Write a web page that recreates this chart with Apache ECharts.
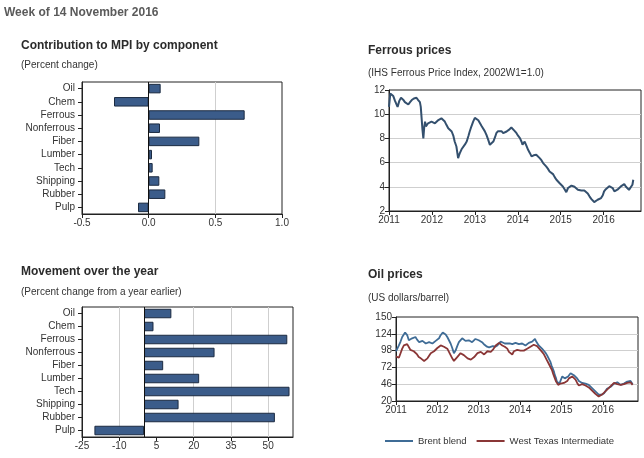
<!DOCTYPE html>
<html>
<head>
<meta charset="utf-8">
<script src="https://cdn.jsdelivr.net/npm/echarts@6/dist/echarts.min.js"></script>
<style>
html,body{margin:0;padding:0;background:#fff;}
#chart{width:644px;height:458px;}
</style>
</head>
<body>
<div id="chart"></div>
<script>
// ---- Data ----
const components = ['Oil','Chem','Ferrous','Nonferrous','Fiber','Lumber','Tech','Shipping','Rubber','Pulp'];
const contribution = [0.09,-0.26,0.72,0.085,0.38,0.025,0.03,0.08,0.125,-0.08];
const yearChange = [11.0,3.8,57.7,28.4,7.7,22.2,58.6,13.9,52.7,-20.0];

const contribTicks = [-0.5, 0.0, 0.5, 1.0];
const yearTicks = [-25, -10, 5, 20, 35, 50];
const ferrousTicks = [2, 4, 6, 8, 10, 12];
const oilTicks = [20, 46, 72, 98, 124, 150];
const yearLabels = [2011, 2012, 2013, 2014, 2015, 2016];

// Ferrous price index: [decimal year, index]
const ferrous = [
[2011.00,10.6],[2011.03,11.7],[2011.06,11.8],[2011.10,11.5],[2011.14,11.1],[2011.20,10.6],[2011.24,11.1],
[2011.28,11.36],[2011.33,11.2],[2011.37,11.0],[2011.41,11.1],[2011.45,10.8],[2011.49,11.0],[2011.53,11.17],
[2011.58,11.3],[2011.64,11.36],[2011.68,11.17],[2011.72,11.0],[2011.74,10.6],[2011.76,9.66],[2011.78,8.7],
[2011.80,8.0],[2011.82,8.9],[2011.84,9.39],[2011.86,9.0],[2011.88,8.84],[2011.91,9.25],[2011.95,9.1],
[2011.99,9.39],[2012.03,9.4],[2012.07,9.25],[2012.11,9.3],[2012.15,9.52],[2012.19,9.6],[2012.22,9.66],
[2012.26,9.5],[2012.30,9.39],[2012.34,9.1],[2012.38,8.84],[2012.42,8.7],[2012.46,8.57],[2012.50,8.2],
[2012.53,7.74],[2012.57,7.33],[2012.61,6.37],[2012.63,6.6],[2012.65,6.78],[2012.69,7.1],[2012.73,7.2],
[2012.77,7.5],[2012.81,7.74],[2012.85,8.2],[2012.88,8.57],[2012.92,9.0],[2012.96,9.39],[2013.00,9.7],
[2013.04,9.8],[2013.08,9.5],[2013.12,9.25],[2013.16,9.0],[2013.19,8.84],[2013.23,8.6],[2013.27,8.29],
[2013.31,7.9],[2013.35,7.47],[2013.39,7.5],[2013.43,7.74],[2013.47,8.1],[2013.50,8.43],[2013.54,8.6],
[2013.58,8.7],[2013.62,8.6],[2013.66,8.43],[2013.70,8.5],[2013.74,8.57],[2013.79,8.7],[2013.85,8.9],
[2013.89,8.84],[2013.93,8.6],[2013.97,8.43],[2014.01,8.2],[2014.05,8.02],[2014.09,7.7],[2014.11,7.47],
[2014.14,7.6],[2014.16,7.74],[2014.20,7.4],[2014.24,7.06],[2014.28,6.8],[2014.32,6.51],[2014.37,6.6],
[2014.43,6.65],[2014.47,6.5],[2014.51,6.37],[2014.55,6.2],[2014.59,5.96],[2014.62,5.8],[2014.66,5.69],
[2014.70,5.5],[2014.74,5.27],[2014.78,5.2],[2014.82,5.05],[2014.86,4.8],[2014.90,4.58],[2014.94,4.45],
[2014.97,4.31],[2015.01,4.2],[2015.05,4.03],[2015.09,3.8],[2015.13,3.56],[2015.17,3.9],[2015.21,4.03],
[2015.25,4.1],[2015.28,4.17],[2015.32,4.0],[2015.36,3.9],[2015.40,3.75],[2015.44,3.62],[2015.48,3.7],
[2015.51,3.76],[2015.55,3.7],[2015.59,3.62],[2015.63,3.45],[2015.67,3.21],[2015.71,3.0],[2015.74,2.85],
[2015.78,2.74],[2015.82,2.85],[2015.86,2.93],[2015.90,3.0],[2015.94,3.07],[2015.98,3.3],[2016.01,3.62],
[2016.05,3.8],[2016.09,3.9],[2016.13,4.05],[2016.17,4.17],[2016.21,3.9],[2016.25,3.62],[2016.28,3.7],
[2016.32,3.76],[2016.36,3.9],[2016.40,4.03],[2016.44,4.1],[2016.48,4.22],[2016.52,4.0],[2016.55,3.84],
[2016.59,3.75],[2016.63,3.68],[2016.67,4.17],[2016.69,4.58]
];

// Brent blend, US$/barrel: [decimal year, price]
const brent = [
[2011.00,97],[2011.04,100],[2011.07,106],[2011.11,112],[2011.15,119],[2011.19,122],[2011.22,126],[2011.27,122],
[2011.31,114],[2011.35,116],[2011.39,117],[2011.43,118],[2011.47,119],[2011.51,115],[2011.56,111],[2011.60,113],
[2011.64,113],[2011.68,111],[2011.72,109],[2011.76,110],[2011.80,111],[2011.84,110],[2011.88,109],[2011.92,111],
[2011.96,113],[2012.00,114],[2012.04,117],[2012.07,121],[2012.10,124],[2012.13,126],[2012.16,126],[2012.20,123],
[2012.24,119],[2012.28,114],[2012.32,109],[2012.36,102],[2012.40,94],[2012.44,98],[2012.48,105],[2012.52,111],
[2012.56,114],[2012.60,117],[2012.64,114],[2012.68,113],[2012.72,111],[2012.76,114],[2012.80,112],[2012.84,111],
[2012.88,113],[2012.92,116],[2012.96,114],[2013.00,114],[2013.04,113],[2013.08,111],[2013.14,107],[2013.20,104],
[2013.25,103],[2013.29,106],[2013.34,105],[2013.40,104],[2013.45,106],[2013.49,109],[2013.53,112],[2013.57,110],
[2013.63,109],[2013.69,109],[2013.75,109],[2013.81,108],[2013.85,110],[2013.89,110],[2013.93,109],[2013.97,108],
[2014.01,108],[2014.05,109],[2014.09,107],[2014.13,106],[2014.17,108],[2014.21,110],[2014.25,110],[2014.29,112],
[2014.33,115],[2014.36,116],[2014.39,112],[2014.41,109],[2014.45,106],[2014.49,104],[2014.53,101],[2014.57,99],
[2014.61,95],[2014.65,91],[2014.69,86],[2014.73,81],[2014.76,75],[2014.79,70],[2014.82,65],[2014.84,60],
[2014.87,55],[2014.89,50],[2014.92,48],[2014.95,47],[2014.98,52],[2015.02,58],[2015.05,56],[2015.08,55],
[2015.12,56],[2015.16,58],[2015.19,61],[2015.22,63],[2015.26,62],[2015.30,60],[2015.34,58],[2015.38,55],
[2015.42,51],[2015.46,48],[2015.50,48],[2015.54,49],[2015.58,47],[2015.62,46],[2015.66,45],[2015.70,42],
[2015.74,40],[2015.78,37],[2015.82,35],[2015.86,32],[2015.90,30],[2015.94,29],[2015.98,30],[2016.03,32],
[2016.06,35],[2016.10,39],[2016.14,40],[2016.19,42],[2016.23,45],[2016.27,47],[2016.31,48],[2016.35,49],
[2016.39,46],[2016.43,45],[2016.47,46],[2016.51,47],[2016.55,49],[2016.59,50],[2016.63,48],[2016.67,51],
[2016.70,49],[2016.72,46]
];

// West Texas Intermediate, US$/barrel: [decimal year, price]
const wti = [
[2011.00,89],[2011.04,88],[2011.07,87],[2011.11,94],[2011.15,101],[2011.19,106],[2011.23,109],[2011.27,108],
[2011.30,106],[2011.35,99],[2011.39,97],[2011.43,97],[2011.47,95],[2011.51,92],[2011.55,88],[2011.60,86],
[2011.64,84],[2011.68,82],[2011.72,84],[2011.76,86],[2011.80,90],[2011.84,94],[2011.88,96],[2011.92,97],
[2011.96,99],[2012.00,102],[2012.04,104],[2012.08,106],[2012.12,105],[2012.16,104],[2012.20,102],[2012.24,101],
[2012.28,96],[2012.32,91],[2012.36,86],[2012.40,82],[2012.44,85],[2012.48,88],[2012.52,91],[2012.56,94],
[2012.60,92],[2012.64,91],[2012.68,88],[2012.73,86],[2012.77,85],[2012.81,84],[2012.85,86],[2012.89,88],
[2012.93,91],[2012.97,94],[2013.01,96],[2013.05,96],[2013.09,94],[2013.13,92],[2013.17,95],[2013.21,97],
[2013.25,96],[2013.29,96],[2013.35,100],[2013.41,106],[2013.45,108],[2013.49,110],[2013.53,108],[2013.57,106],
[2013.63,104],[2013.69,101],[2013.73,96],[2013.77,94],[2013.81,92],[2013.85,97],[2013.89,97],[2013.93,99],
[2013.97,100],[2014.01,98],[2014.05,96],[2014.09,98],[2014.13,100],[2014.17,101],[2014.21,102],[2014.25,104],
[2014.29,106],[2014.33,107],[2014.37,109],[2014.41,105],[2014.45,102],[2014.49,99],[2014.53,97],[2014.57,93],
[2014.61,88],[2014.65,83],[2014.69,78],[2014.73,73],[2014.77,68],[2014.80,62],[2014.84,55],[2014.87,50],
[2014.89,47],[2014.92,45],[2014.95,44],[2014.98,47],[2015.02,49],[2015.06,48],[2015.10,46],[2015.14,51],
[2015.18,55],[2015.22,57],[2015.26,58],[2015.30,55],[2015.34,53],[2015.38,48],[2015.42,44],[2015.46,45],
[2015.50,46],[2015.54,45],[2015.58,44],[2015.62,42],[2015.66,41],[2015.70,38],[2015.74,36],[2015.78,33],
[2015.82,31],[2015.86,29],[2015.90,27],[2015.94,28],[2015.98,30],[2016.03,33],[2016.07,36],[2016.11,38],
[2016.15,41],[2016.19,43],[2016.23,46],[2016.27,48],[2016.31,49],[2016.35,46],[2016.39,44],[2016.43,45],
[2016.47,47],[2016.51,46],[2016.55,46],[2016.59,48],[2016.63,50],[2016.67,49],[2016.70,47],[2016.72,45]
];

// ---- Styling ----
const FONT = 'Liberation Sans, Arial, sans-serif';
const TXT = '#333';
const AXIS = '#222';
const GRIDC = '#cfcfcf';
const BAR = '#3b5c8a';
const BAR_EDGE = '#1b2a40';

const labelStyle = {color: TXT, fontSize: 10, fontFamily: FONT};
const axisLineStyle = {show: true, onZero: false, lineStyle: {color: AXIS, width: 1}};
const tickStyle = {show: true, inside: false, length: 4, lineStyle: {color: AXIS}};

function barCategoryAxis(gridIndex) {
  return {
    type: 'category', gridIndex, data: components, inverse: true,
    axisLine: axisLineStyle,
    axisTick: {show: true, length: 4, alignWithLabel: true, interval: 0, lineStyle: {color: AXIS}},
    axisLabel: Object.assign({margin: 7, interval: 0}, labelStyle),
    splitLine: {show: false}
  };
}

function titleText(text, left, top, bold) {
  return {
    text, left, top, padding: 0,
    textStyle: bold
      ? {fontSize: 12, fontWeight: 'bold', color: '#2b2b2b', fontFamily: FONT}
      : {fontSize: 10, fontWeight: 'normal', color: TXT, fontFamily: FONT}
  };
}

const chart = echarts.init(document.getElementById('chart'), null, {renderer: 'canvas'});

const option = {
  backgroundColor: '#fff',
  animation: false,
  textStyle: {fontFamily: FONT},
  title: [
    {text: 'Week of 14 November 2016', left: 4, top: 7, padding: 0, textStyle: {fontSize: 12, fontWeight: 'bold', color: '#5a5a5a', fontFamily: FONT}},
    titleText('Contribution to MPI by component', 21, 40, true),
    titleText('(Percent change)', 21, 60, false),
    titleText('Ferrous prices', 368, 45, true),
    titleText('(IHS Ferrous Price Index, 2002W1=1.0)', 368, 68, false),
    titleText('Movement over the year', 21, 266, true),
    titleText('(Percent change from a year earlier)', 21, 287, false),
    titleText('Oil prices', 368, 269, true),
    titleText('(US dollars/barrel)', 368, 293, false)
  ],
  legend: {
    data: ['Brent blend', 'West Texas Intermediate'],
    left: 385, top: 436, padding: 0,
    icon: 'rect', itemWidth: 28, itemHeight: 2, itemGap: 10,
    textStyle: {color: TXT, fontSize: 9.5, fontFamily: FONT}
  },
  grid: [
    {left: 82, top: 82, width: 200, height: 132, show: true, borderColor: AXIS, borderWidth: 1},
    {left: 389, top: 90, width: 252, height: 121, show: true, borderColor: AXIS, borderWidth: 1},
    {left: 82, top: 307, width: 211, height: 130, show: true, borderColor: AXIS, borderWidth: 1},
    {left: 396, top: 317, width: 242, height: 84, show: true, borderColor: AXIS, borderWidth: 1}
  ],
  xAxis: [
    {
      type: 'value', gridIndex: 0,
      min: contribTicks[0], max: contribTicks[contribTicks.length - 1], interval: 0.5,
      axisLine: axisLineStyle, axisTick: tickStyle,
      axisLabel: Object.assign({margin: 4, formatter: v => v.toFixed(1)}, labelStyle),
      splitLine: {show: true, showMinLine: false, showMaxLine: false, lineStyle: {color: ['transparent', GRIDC], width: 1}}
    },
    {
      type: 'value', gridIndex: 1,
      min: yearLabels[0], max: 2016.87, interval: 1,
      axisLine: axisLineStyle, axisTick: tickStyle,
      axisLabel: Object.assign({margin: 4, showMaxLabel: false, formatter: v => String(Math.round(v))}, labelStyle),
      splitLine: {show: false}
    },
    {
      type: 'value', gridIndex: 2,
      min: yearTicks[0], max: 60, interval: 15,
      axisLine: axisLineStyle, axisTick: tickStyle,
      axisLabel: Object.assign({margin: 4, showMaxLabel: false}, labelStyle),
      splitLine: {show: true, showMinLine: false, showMaxLine: false, lineStyle: {color: [GRIDC, 'transparent', GRIDC, GRIDC, GRIDC], width: 1}}
    },
    {
      type: 'value', gridIndex: 3,
      min: yearLabels[0], max: 2016.85, interval: 1,
      axisLine: axisLineStyle, axisTick: tickStyle,
      axisLabel: Object.assign({margin: 4, showMaxLabel: false, formatter: v => String(Math.round(v))}, labelStyle),
      splitLine: {show: false}
    }
  ],
  yAxis: [
    barCategoryAxis(0),
    {
      type: 'value', gridIndex: 1,
      min: ferrousTicks[0], max: ferrousTicks[ferrousTicks.length - 1], interval: 2,
      axisLine: axisLineStyle, axisTick: tickStyle,
      axisLabel: Object.assign({margin: 4}, labelStyle),
      splitLine: {show: true, showMinLine: false, showMaxLine: false, lineStyle: {color: GRIDC, width: 1}}
    },
    barCategoryAxis(2),
    {
      type: 'value', gridIndex: 3,
      min: oilTicks[0], max: oilTicks[oilTicks.length - 1], interval: 26,
      axisLine: axisLineStyle, axisTick: tickStyle,
      axisLabel: Object.assign({margin: 4}, labelStyle),
      splitLine: {show: true, showMinLine: false, showMaxLine: false, lineStyle: {color: GRIDC, width: 1}}
    }
  ],
  series: [
    {
      name: 'Contribution', type: 'bar', xAxisIndex: 0, yAxisIndex: 0,
      data: contribution, barWidth: 9.5,
      itemStyle: {color: BAR, borderColor: BAR_EDGE, borderWidth: 1},
      markLine: {silent: true, symbol: 'none', label: {show: false}, lineStyle: {color: '#111', width: 1, type: 'solid'}, data: [{xAxis: 0}]}
    },
    {
      name: 'Ferrous', type: 'line', xAxisIndex: 1, yAxisIndex: 1,
      data: ferrous, showSymbol: false, symbol: 'none',
      lineStyle: {color: '#34506e', width: 2}, itemStyle: {color: '#34506e'}
    },
    {
      name: 'Year', type: 'bar', xAxisIndex: 2, yAxisIndex: 2,
      data: yearChange, barWidth: 9.5,
      itemStyle: {color: BAR, borderColor: BAR_EDGE, borderWidth: 1},
      markLine: {silent: true, symbol: 'none', label: {show: false}, lineStyle: {color: '#111', width: 1, type: 'solid'}, data: [{xAxis: 0}]}
    },
    {
      name: 'Brent blend', type: 'line', xAxisIndex: 3, yAxisIndex: 3,
      data: brent, showSymbol: false, symbol: 'none',
      lineStyle: {color: '#3f6c96', width: 1.8}, itemStyle: {color: '#3f6c96'}
    },
    {
      name: 'West Texas Intermediate', type: 'line', xAxisIndex: 3, yAxisIndex: 3,
      data: wti, showSymbol: false, symbol: 'none',
      lineStyle: {color: '#8a3636', width: 1.8}, itemStyle: {color: '#8a3636'}
    }
  ]
};

chart.setOption(option);
</script>
</body>
</html>
